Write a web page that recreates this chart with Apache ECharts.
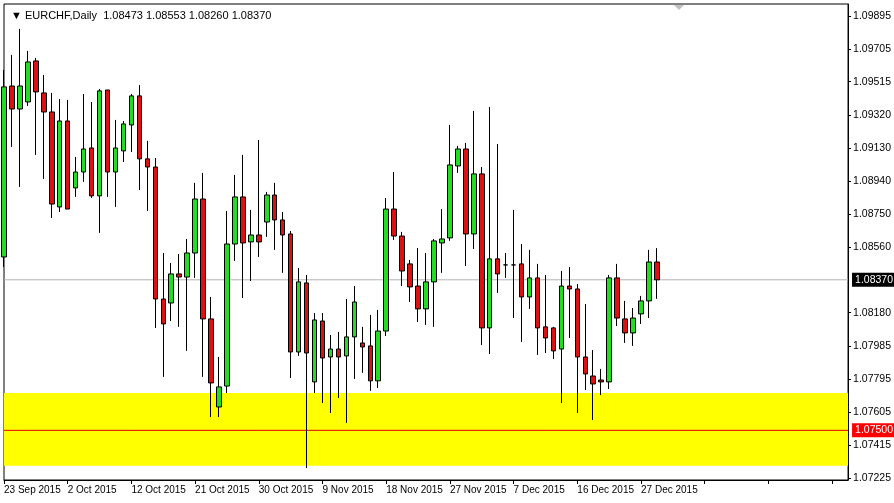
<!DOCTYPE html>
<html>
<head>
<meta charset="utf-8">
<script src="https://cdn.jsdelivr.net/npm/echarts@6/dist/echarts.min.js"></script>
<style>
  html, body { margin: 0; padding: 0; background: #fff; }
  #chart { width: 894px; height: 503px; }
</style>
</head>
<body>
<div id="chart"></div>
<script>
// daily candles: [open, close, low, high]
const candles = [
    [1.08502, 1.09485, 1.08444, 1.09583],
    [1.09490, 1.09357, 1.09138, 1.09670],
    [1.09357, 1.09490, 1.08907, 1.09820],
    [1.09398, 1.09629, 1.09375, 1.09693],
    [1.09635, 1.09456, 1.09092, 1.09652],
    [1.09450, 1.09340, 1.08953, 1.09554],
    [1.09340, 1.08808, 1.08727, 1.09450],
    [1.08791, 1.09288, 1.08762, 1.09415],
    [1.09288, 1.08779, 1.08779, 1.09410],
    [1.08901, 1.08993, 1.08849, 1.09080],
    [1.08993, 1.09126, 1.08936, 1.09444],
    [1.09132, 1.08855, 1.08843, 1.09398],
    [1.08855, 1.09462, 1.08641, 1.09473],
    [1.09467, 1.08993, 1.08849, 1.09467],
    [1.08993, 1.09132, 1.08791, 1.09294],
    [1.09115, 1.09271, 1.09051, 1.09288],
    [1.09265, 1.09433, 1.09109, 1.09444],
    [1.09433, 1.09069, 1.08889, 1.09495],
    [1.09069, 1.09022, 1.08768, 1.09173],
    [1.09022, 1.08259, 1.08092, 1.09074],
    [1.08259, 1.08115, 1.07809, 1.08525],
    [1.08236, 1.08404, 1.08132, 1.08467],
    [1.08404, 1.08386, 1.08098, 1.08519],
    [1.08386, 1.08525, 1.07959, 1.08606],
    [1.08525, 1.08837, 1.08381, 1.08930],
    [1.08837, 1.08144, 1.07809, 1.08988],
    [1.08144, 1.07774, 1.07577, 1.08271],
    [1.07635, 1.07751, 1.07577, 1.07924],
    [1.07756, 1.08577, 1.07716, 1.08768],
    [1.08577, 1.08849, 1.08479, 1.08976],
    [1.08849, 1.08583, 1.08265, 1.09092],
    [1.08589, 1.08629, 1.08363, 1.08774],
    [1.08629, 1.08589, 1.08502, 1.09178],
    [1.08704, 1.08860, 1.08618, 1.08878],
    [1.08860, 1.08716, 1.08543, 1.08930],
    [1.08716, 1.08629, 1.08410, 1.08762],
    [1.08635, 1.07953, 1.07803, 1.08652],
    [1.07953, 1.08358, 1.07930, 1.08438],
    [1.08352, 1.07947, 1.07282, 1.08398],
    [1.07780, 1.08138, 1.07716, 1.08178],
    [1.08132, 1.07918, 1.07658, 1.08178],
    [1.07924, 1.07970, 1.07600, 1.08051],
    [1.07970, 1.07924, 1.07687, 1.08069],
    [1.07930, 1.08040, 1.07543, 1.08259],
    [1.08040, 1.08242, 1.07797, 1.08334],
    [1.08005, 1.07982, 1.07832, 1.08098],
    [1.07988, 1.07786, 1.07728, 1.08167],
    [1.07786, 1.08074, 1.07745, 1.08196],
    [1.08074, 1.08779, 1.08045, 1.08843],
    [1.08779, 1.08623, 1.08600, 1.08993],
    [1.08623, 1.08421, 1.08334, 1.08647],
    [1.08462, 1.08329, 1.08242, 1.08485],
    [1.08334, 1.08202, 1.08126, 1.08554],
    [1.08202, 1.08358, 1.08109, 1.08525],
    [1.08358, 1.08595, 1.08098, 1.08606],
    [1.08583, 1.08606, 1.08410, 1.08779],
    [1.08612, 1.09034, 1.08595, 1.09265],
    [1.09028, 1.09126, 1.08988, 1.09144],
    [1.09126, 1.08635, 1.08450, 1.09161],
    [1.08635, 1.08982, 1.08548, 1.09346],
    [1.08982, 1.08092, 1.07993, 1.09022],
    [1.08092, 1.08491, 1.07941, 1.09369],
    [1.08491, 1.08404, 1.08294, 1.09155],
    [1.08456, 1.08456, 1.08381, 1.08525],
    [1.08456, 1.08456, 1.08149, 1.08774],
    [1.08462, 1.08271, 1.08011, 1.08577],
    [1.08271, 1.08381, 1.08202, 1.08543],
    [1.08381, 1.08092, 1.07936, 1.08462],
    [1.08098, 1.08034, 1.07947, 1.08398],
    [1.08092, 1.07959, 1.07912, 1.08098],
    [1.07970, 1.08334, 1.07658, 1.08421],
    [1.08334, 1.08317, 1.08034, 1.08444],
    [1.08317, 1.07924, 1.07600, 1.08346],
    [1.07924, 1.07826, 1.07733, 1.08230],
    [1.07814, 1.07768, 1.07560, 1.07964],
    [1.07791, 1.07780, 1.07704, 1.07855],
    [1.07780, 1.08381, 1.07739, 1.08398],
    [1.08381, 1.08149, 1.08103, 1.08462],
    [1.08144, 1.08063, 1.08005, 1.08248],
    [1.08063, 1.08149, 1.07988, 1.08207],
    [1.08173, 1.08248, 1.08115, 1.08277],
    [1.08248, 1.08473, 1.08149, 1.08543],
    [1.08473, 1.08370, 1.08260, 1.08553]
];

// one date label every 8 bars
const dateLabels = ['23 Sep 2015', '2 Oct 2015', '12 Oct 2015', '21 Oct 2015', '30 Oct 2015',
    '9 Nov 2015', '18 Nov 2015', '27 Nov 2015', '7 Dec 2015', '16 Dec 2015', '27 Dec 2015'];
const priceLabels = [1.09895, 1.09705, 1.09515, 1.09320, 1.09130, 1.08940, 1.08750, 1.08560,
    1.08180, 1.07985, 1.07795, 1.07605, 1.07415, 1.07225];
const lastPrice = 1.08370;
const levelPrice = 1.07500;
const zoneRange = [1.07295, 1.07716];
const TOTAL_SLOTS = 107;

let categories = [];
for (let i = 0; i < TOTAL_SLOTS; i++) categories.push(i);

const FONT = 'Liberation Sans';

// horizontal price line across the whole plot, with a tag on the price scale
function priceLine(value, color, bg) {
    return {
        type: 'line',
        data: [[0, value], [TOTAL_SLOTS - 1, value]],
        symbol: 'none',
        silent: true,
        lineStyle: {color: color, width: 1},
        endLabel: {
            show: true, distance: 4, formatter: value.toFixed(5),
            backgroundColor: bg, color: '#fff', padding: [2, 2, 1, 3],
            fontFamily: FONT, fontSize: 10.5
        },
        z: 1
    };
}

let chart = echarts.init(document.getElementById('chart'));
chart.setOption({
    animation: false,
    backgroundColor: '#fff',
    title: {
        text: '\u25BC EURCHF,Daily  1.08473 1.08553 1.08260 1.08370',
        left: 6, top: 5,
        textStyle: {fontFamily: FONT, fontSize: 11, fontWeight: 'normal', color: '#000'}
    },
    grid: {left: 4, right: 45, top: 4, bottom: 23, show: true, borderColor: '#000', borderWidth: 1},
    xAxis: {
        type: 'category',
        data: categories,
        boundaryGap: false,
        axisLine: {lineStyle: {color: '#000'}},
        axisTick: {interval: 7, length: 4, lineStyle: {color: '#000'}},
        axisLabel: {
            interval: 7,
            align: 'left',
            margin: 5,
            fontFamily: FONT, fontSize: 10, color: '#000',
            formatter: function (v, idx) { return dateLabels[idx / 8] || ''; }
        },
        splitLine: {show: false}
    },
    yAxis: {
        type: 'value',
        position: 'right',
        min: 1.07213,
        max: 1.09964,
        axisLine: {show: true, lineStyle: {color: '#000'}},
        axisTick: {show: true, length: 3, customValues: priceLabels, lineStyle: {color: '#000'}},
        axisLabel: {
            customValues: priceLabels,
            margin: 5,
            fontFamily: FONT, fontSize: 10.5, color: '#000',
            formatter: function (v) { return v.toFixed(5); }
        },
        splitLine: {show: false}
    },
    series: [
        {
            // carrier for the yellow zone
            type: 'line',
            data: [],
            silent: true,
            markArea: {
                silent: true,
                itemStyle: {color: '#ffff00'},
                data: [[{yAxis: zoneRange[0]}, {yAxis: zoneRange[1]}]]
            }
        },
        priceLine(lastPrice, '#b4b4b4', '#000'),
        priceLine(levelPrice, '#e00000', '#ff0000'),
        {
            type: 'candlestick',
            data: candles,
            barWidth: 5,
            z: 3,
            itemStyle: {
                color: '#22dd22',
                color0: '#dd1111',
                borderColor: '#000',
                borderColor0: '#000',
                borderWidth: 1
            }
        }
    ],
    graphic: [{
        type: 'polygon',
        shape: {points: [[674, 5], [684, 5], [679, 10]]},
        style: {fill: '#c0c0c0'}
    }]
});
</script>
</body>
</html>
